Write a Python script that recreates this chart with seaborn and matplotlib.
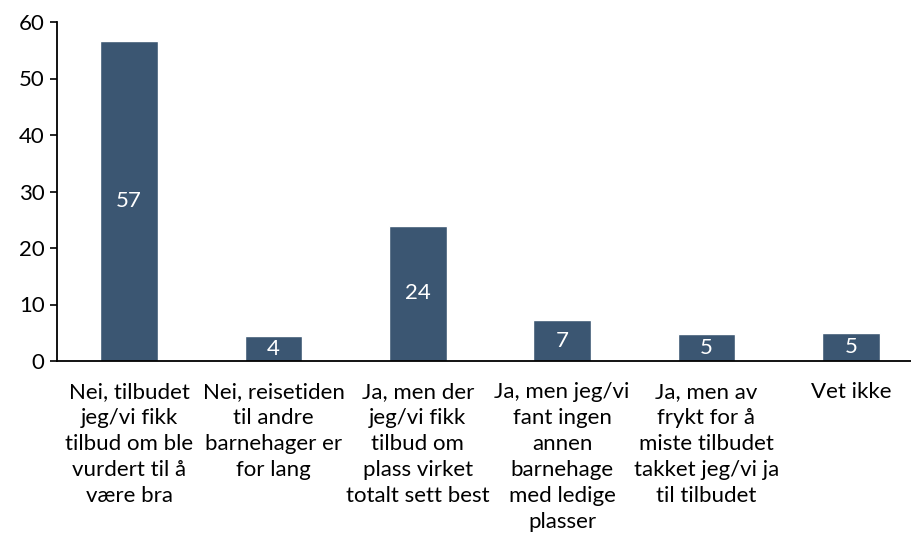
import numpy as np
import pandas as pd
import seaborn as sns
import matplotlib.pyplot as plt

# Data
categories = [
    "Nei, tilbudet\njeg/vi fikk\ntilbud om ble\nvurdert til å\nvære bra",
    "Nei, reisetiden\ntil andre\nbarnehager er\nfor lang",
    "Ja, men der\njeg/vi fikk\ntilbud om\nplass virket\ntotalt sett best",
    "Ja, men jeg/vi\nfant ingen\nannen\nbarnehage\nmed ledige\nplasser",
    "Ja, men av\nfrykt for å\nmiste tilbudet\ntakket jeg/vi ja\ntil tilbudet",
    "Vet ikke",
]
values = [56.7, 4.4, 23.9, 7.2, 4.7, 4.9]
yticks = [0, 10, 20, 30, 40, 50, 60]

BAR_COLOR = "#3b5672"
FS = 16

sns.set_theme(style="white")
plt.rcParams["font.family"] = ["Lato", "DejaVu Sans"]

df = pd.DataFrame({"kategori": categories, "andel": values})

fig = plt.figure(figsize=(9.12, 5.46), dpi=100)
ax = fig.add_axes([57 / 912, 1 - 361 / 546, 866 / 912, 339 / 546])

sns.barplot(data=df, x="kategori", y="andel", color=BAR_COLOR,
            saturation=1, width=0.4, ax=ax)

for p, v in zip(ax.patches, values):
    ax.text(p.get_x() + p.get_width() / 2, p.get_height() / 2,
            f"{round(v):.0f}", ha="center", va="center",
            color="white", fontsize=FS)

ax.set_ylim(0, 60)
ax.set_xlim(-0.5, len(categories) - 0.5)
ax.set_yticks(yticks)
ax.set_xlabel("")
ax.set_ylabel("")
ax.tick_params(axis="y", which="major", left=True, length=5, width=1.2,
               color="black", labelsize=FS, labelcolor="black", pad=4)
ax.tick_params(axis="x", bottom=False, labelsize=FS, labelcolor="black", pad=9)
for lbl in ax.get_xticklabels():
    lbl.set_linespacing(1.38)

for side in ["top", "right"]:
    ax.spines[side].set_visible(False)
for side in ["left", "bottom"]:
    ax.spines[side].set_color("black")
    ax.spines[side].set_linewidth(1.3)

fig.savefig("out.png", dpi=100)
